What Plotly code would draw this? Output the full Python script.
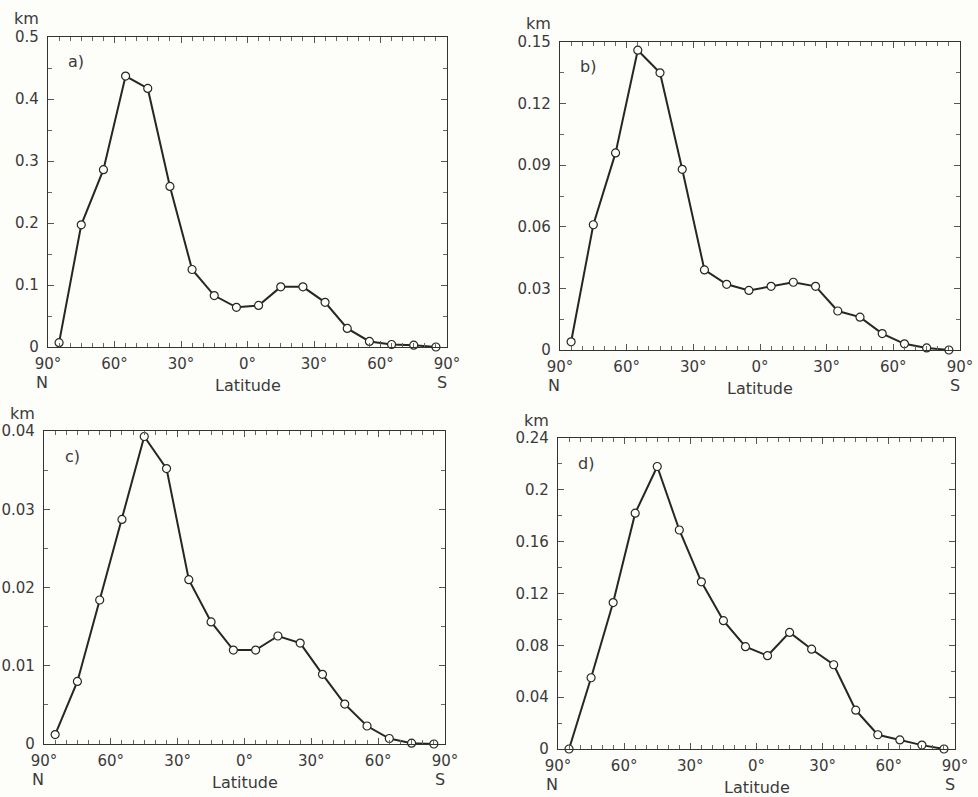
import plotly.graph_objects as go

# Latitude of each plotted point (N positive, S negative)
latitude = [85, 75, 65, 55, 45, 35, 25, 15, 5, -5, -15, -25, -35, -45, -55, -65, -75, -85]

height_a = [0.007, 0.197, 0.286, 0.437, 0.417, 0.259, 0.125, 0.083, 0.064, 0.067,
            0.097, 0.097, 0.072, 0.030, 0.009, 0.004, 0.003, 0.0]
height_b = [0.004, 0.061, 0.096, 0.146, 0.135, 0.088, 0.039, 0.032, 0.029, 0.031,
            0.033, 0.031, 0.019, 0.016, 0.008, 0.003, 0.001, 0.0]
height_c = [0.0012, 0.0080, 0.0184, 0.0287, 0.0393, 0.0352, 0.0210, 0.0156, 0.0120, 0.0120,
            0.0138, 0.0129, 0.0089, 0.0051, 0.0023, 0.0007, 0.0001, 0.0]
height_d = [0.0, 0.055, 0.113, 0.182, 0.218, 0.169, 0.129, 0.099, 0.079, 0.072,
            0.090, 0.077, 0.065, 0.030, 0.011, 0.007, 0.003, 0.0]

x_tick_vals = [90, 60, 30, 0, -30, -60, -90]
x_tick_text = ["90°", "60°", "30°", "0°", "30°", "60°", "90°"]

y_ticks_a = [0, 0.1, 0.2, 0.3, 0.4, 0.5]
y_text_a = ["0", "0.1", "0.2", "0.3", "0.4", "0.5"]
y_ticks_b = [0, 0.03, 0.06, 0.09, 0.12, 0.15]
y_text_b = ["0", "0.03", "0.06", "0.09", "0.12", "0.15"]
y_ticks_c = [0, 0.01, 0.02, 0.03, 0.04]
y_text_c = ["0", "0.01", "0.02", "0.03", "0.04"]
y_ticks_d = [0, 0.04, 0.08, 0.12, 0.16, 0.2, 0.24]
y_text_d = ["0", "0.04", "0.08", "0.12", "0.16", "0.2", "0.24"]

panel_labels = ["a)", "b)", "c)", "d)"]

W, H = 978, 797
INK = "#262626"
BG = "#fdfdf9"
FONT = dict(family="DejaVu Sans", size=15, color="#3a3a3a")
AFONT = dict(family="DejaVu Sans", size=16, color="#3a3a3a")

# box pixel extents in the window (left, right, top, bottom)
boxes = [(48, 447, 37, 347), (560, 960, 42, 350), (44, 445, 431, 744), (558, 955, 438, 749)]

series = [height_a, height_b, height_c, height_d]
yticks = [(y_ticks_a, y_text_a), (y_ticks_b, y_text_b), (y_ticks_c, y_text_c), (y_ticks_d, y_text_d)]

fig = go.Figure()
layout = dict(width=W, height=H, margin=dict(l=0, r=0, t=0, b=0, pad=0), autosize=False,
              paper_bgcolor=BG, plot_bgcolor=BG, showlegend=False, font=FONT)
annotations = []

for i, (vals, (tv, tt), (l, r, t, b)) in enumerate(zip(series, yticks, boxes)):
    n = "" if i == 0 else str(i + 1)
    fig.add_trace(go.Scatter(
        x=latitude, y=vals, mode="lines+markers", xaxis="x" + n, yaxis="y" + n,
        line=dict(color=INK, width=2),
        marker=dict(symbol="circle", size=8, color=BG, line=dict(color=INK, width=1.2)),
        cliponaxis=False,
    ))
    step = tv[1] - tv[0]
    layout["xaxis" + n] = dict(
        domain=[l / W, r / W], anchor="y" + n, range=[90, -90], automargin=False,
        tickmode="array", tickvals=x_tick_vals, ticktext=x_tick_text,
        ticks="inside", ticklen=6, tickwidth=1, tickcolor="#555",
        minor=dict(ticks="inside", tickmode="linear", tick0=0, dtick=5, ticklen=4,
                   tickwidth=1, tickcolor="#666"),
        showline=True, linecolor="#333", linewidth=1.2, mirror="ticks",
        showgrid=False, zeroline=False, ticklabelstandoff=3,
        tickfont=FONT,
    )
    layout["yaxis" + n] = dict(
        domain=[1 - b / H, 1 - t / H], anchor="x" + n, range=[0, tv[-1]], automargin=False,
        tickmode="array", tickvals=tv, ticktext=tt,
        ticks="inside", ticklen=6, tickwidth=1, tickcolor="#555",
        minor=dict(ticks="inside", tickmode="linear", tick0=0, dtick=step / 2, ticklen=4,
                   tickwidth=1, tickcolor="#666"),
        showline=True, linecolor="#333", linewidth=1.2, mirror="ticks",
        showgrid=False, zeroline=False, ticklabelstandoff=5,
        tickfont=FONT,
    )
    xd = "x" + n + " domain"
    yd = "y" + n + " domain"
    common = dict(xref=xd, yref=yd, showarrow=False, font=AFONT,
                  xanchor="center", yanchor="middle")
    annotations += [
        dict(text="km", x=0, y=1, xshift=-22, yshift=18, **common),
        dict(text=panel_labels[i], x=0, y=1, xshift=28, yshift=-25, **common),
        dict(text="Latitude", x=0.5, y=0, yshift=-38, **common),
        dict(text="N", x=0, y=0, xshift=-6, yshift=-35, **common),
        dict(text="S", x=1, y=0, xshift=-5, yshift=-35, **common),
    ]

layout["annotations"] = annotations
fig.update_layout(**layout)
fig.write_html(
    "out.html",
    config={"displayModeBar": False},
    post_script="document.body.style.margin='0';document.body.style.overflow='hidden';",
)
